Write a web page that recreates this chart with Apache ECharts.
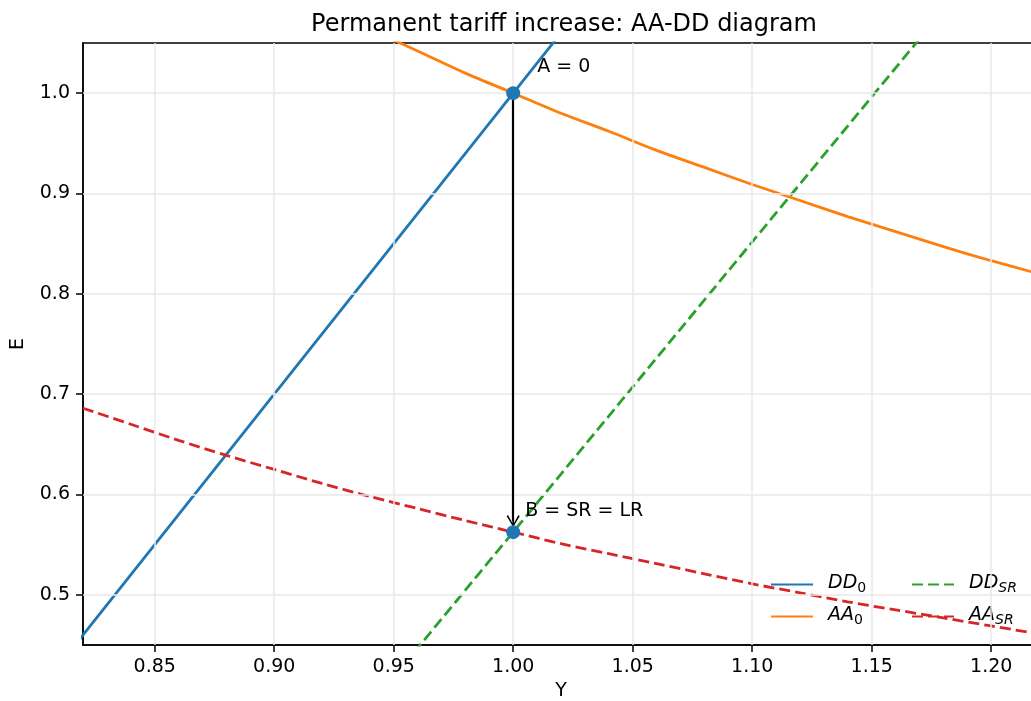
<!DOCTYPE html>
<html>
<head>
<meta charset="utf-8">
<title>AA-DD diagram</title>
<script src="https://cdn.jsdelivr.net/npm/echarts@6/dist/echarts.min.js"></script>
<style>
  html, body { margin: 0; padding: 0; background: #fff; }
  #chart { width: 1031px; height: 701px; }
</style>
</head>
<body>
<div id="chart"></div>
<script>
// DD schedules (straight lines, two end points each)
const ddY = [0.80, 1.03];
const dd0E = [0.40, 1.09];
const ddSrY = [0.95, 1.18];
const ddSrE = [0.418, 1.083];

// AA schedules read along the output axis
const aaY = [0.82, 0.84, 0.86, 0.88, 0.90, 0.92, 0.94, 0.96, 0.98, 1.00, 1.02,
  1.04, 1.06, 1.08, 1.10, 1.12, 1.14, 1.16, 1.18, 1.20, 1.22];
const aa0E = [1.220, 1.190, 1.163, 1.136, 1.111, 1.087, 1.064, 1.042, 1.020, 1.000, 0.980,
  0.962, 0.943, 0.926, 0.909, 0.893, 0.877, 0.862, 0.847, 0.833, 0.820];
const aaSrE = [0.686, 0.670, 0.654, 0.639, 0.625, 0.611, 0.598, 0.586, 0.574, 0.5625, 0.551,
  0.541, 0.531, 0.521, 0.511, 0.502, 0.493, 0.485, 0.477, 0.469, 0.461];

// equilibrium points
const eqY = [1.0, 1.0];
const eqE = [1.0, 0.5625];
const eqLabels = ["A = 0", "B = SR = LR"];

// ticks
const xTicks = [0.85, 0.90, 0.95, 1.00, 1.05, 1.10, 1.15, 1.20];
const yTicks = [0.5, 0.6, 0.7, 0.8, 0.9, 1.0];

const FONT = "DejaVu Sans";
const pairs = (xs, ys) => xs.map((x, i) => [x, ys[i]]);

const chart = echarts.init(document.getElementById("chart"));

const legendNames = {
  DD0: "{a|DD}{b|0}",
  AA0: "{a|AA}{b|0}",
  DDSR: "{a|DD}{c|SR}",
  AASR: "{a|AA}{c|SR}",
};
const legendText = {
  color: "#000",
  padding: [0, 0, 0, 10],
  rich: {
    a: { fontFamily: FONT, fontStyle: "italic", fontSize: 19, padding: [0, 0, 2, 0], verticalAlign: "bottom" },
    b: { fontFamily: FONT, fontSize: 14, verticalAlign: "bottom" },
    c: { fontFamily: FONT, fontStyle: "italic", fontSize: 14, verticalAlign: "bottom" },
  },
};
const legendBase = {
  orient: "vertical",
  top: 574,
  padding: 0,
  itemWidth: 42,
  itemHeight: 14,
  itemGap: 11,
  formatter: (name) => legendNames[name],
  textStyle: legendText,
  itemStyle: { color: "rgba(0,0,0,0)", borderColor: "rgba(0,0,0,0)", borderWidth: 0 },
};

const option = {
  animation: false,
  backgroundColor: "#fff",
  title: {
    text: "Permanent tariff increase: AA-DD diagram",
    left: 559,
    textAlign: "center",
    top: 8,
    textStyle: { fontFamily: FONT, fontSize: 24, fontWeight: "normal", color: "#000" },
  },
  legend: [
    Object.assign({}, legendBase, { left: 770, data: ["DD0", "AA0"] }),
    Object.assign({}, legendBase, { left: 911, data: ["DDSR", "AASR"] }),
  ],
  grid: {
    left: 83,
    top: 43,
    width: 956,
    height: 602,
    outerBoundsMode: "none",
    show: true,
    borderColor: "#000",
    borderWidth: 1.5,
  },
  xAxis: {
    type: "value",
    min: 0.82,
    max: 1.22,
    name: "Y",
    nameLocation: "middle",
    nameGap: 37,
    nameTextStyle: { fontFamily: FONT, fontSize: 19, color: "#000" },
    axisLine: { show: true, lineStyle: { color: "#000", width: 1.5 } },
    axisTick: { show: true, length: 7, customValues: xTicks, lineStyle: { color: "#000", width: 1.5 } },
    axisLabel: {
      margin: 13,
      customValues: xTicks,
      formatter: (v) => v.toFixed(2),
      fontFamily: FONT,
      fontSize: 19,
      color: "#000",
    },
    splitLine: { show: false },
  },
  yAxis: {
    type: "value",
    min: 0.45,
    max: 1.05,
    name: "E",
    nameLocation: "middle",
    nameGap: 55,
    nameTextStyle: { fontFamily: FONT, fontSize: 19, color: "#000" },
    axisLine: { show: true, lineStyle: { color: "#000", width: 1.5 } },
    axisTick: { show: true, length: 7, customValues: yTicks, lineStyle: { color: "#000", width: 1.5 } },
    axisLabel: {
      margin: 13,
      customValues: yTicks,
      formatter: (v) => v.toFixed(1),
      fontFamily: FONT,
      fontSize: 19,
      color: "#000",
    },
    splitLine: { show: false },
  },
  series: [
    {
      // light grid drawn at the tick positions
      name: "grid",
      type: "line",
      data: [],
      z: 1,
      silent: true,
      markLine: {
        silent: true,
        symbol: "none",
        label: { show: false },
        lineStyle: { color: "#e8e8e8", width: 1.5, type: "solid" },
        data: xTicks.map((v) => ({ xAxis: v })).concat(yTicks.map((v) => ({ yAxis: v }))),
      },
    },
    {
      name: "DD0",
      type: "line",
      data: pairs(ddY, dd0E),
      symbol: "none",
      z: 3,
      lineStyle: { color: "#1f77b4", width: 2.8 },
      itemStyle: { color: "#1f77b4" },
    },
    {
      name: "AA0",
      type: "line",
      data: pairs(aaY, aa0E),
      symbol: "none",
      smooth: 0.3,
      z: 3,
      lineStyle: { color: "#ff7f0e", width: 2.8 },
      itemStyle: { color: "#ff7f0e" },
    },
    {
      name: "DDSR",
      type: "line",
      data: pairs(ddSrY, ddSrE),
      symbol: "none",
      z: 3,
      lineStyle: { color: "#2ca02c", width: 2.8, type: [11, 5] },
      itemStyle: { color: "#2ca02c" },
    },
    {
      name: "AASR",
      type: "line",
      data: pairs(aaY, aaSrE),
      symbol: "none",
      smooth: 0.3,
      z: 3,
      lineStyle: { color: "#d62728", width: 2.8, type: [11, 5] },
      itemStyle: { color: "#d62728" },
    },
    {
      // arrow from A down to B
      name: "arrow",
      type: "line",
      data: [],
      z: 4,
      silent: true,
      markLine: {
        silent: true,
        symbol: ["none", "path://M5,0 L10,9 L9,10 L5.6,3.5 L5.6,10 L4.4,10 L4.4,3.5 L1,10 L0,9 Z"],
        symbolSize: [13, 12],
        label: { show: false },
        lineStyle: { color: "#000", width: 2.2, type: "solid", opacity: 1 },
        emphasis: { disabled: true },
        data: [[{ coord: [eqY[0], eqE[0]] }, { coord: [eqY[1], 0.5735] }]],
      },
    },
    {
      name: "points",
      type: "scatter",
      z: 5,
      symbolSize: 14,
      itemStyle: { color: "#1f77b4", opacity: 1 },
      data: eqY.map((y, i) => ({ value: [y, eqE[i]], name: eqLabels[i] })),
      label: {
        show: true,
        position: "right",
        formatter: (p) => p.name,
        fontFamily: FONT,
        fontSize: 19,
        color: "#000",
      },
      labelLayout: (p) => (p.dataIndex === 0 ? { dx: 12, dy: -26 } : { dx: 0, dy: -21 }),
    },
  ],
};

chart.setOption(option);
</script>
</body>
</html>
